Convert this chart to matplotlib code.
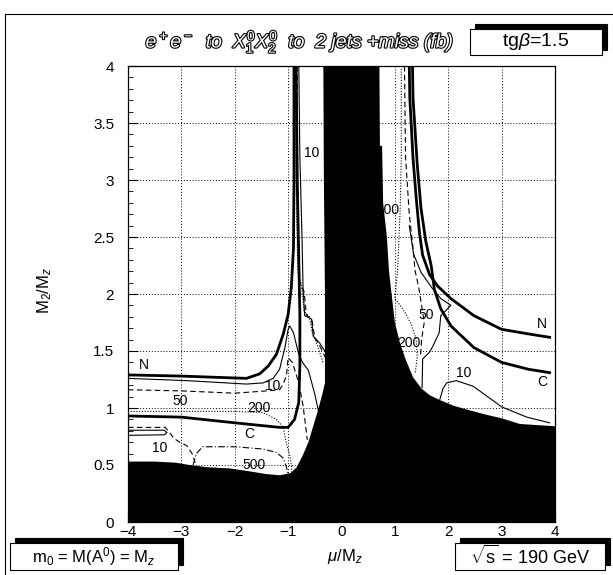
import matplotlib
matplotlib.use("Agg")
import matplotlib.pyplot as plt
import matplotlib.patheffects as pe
from matplotlib.patches import Rectangle
from matplotlib.lines import Line2D
from matplotlib.ticker import MultipleLocator, FuncFormatter

plt.rcParams["font.family"] = ["Liberation Sans", "DejaVu Sans"]
plt.rcParams["mathtext.fontset"] = "custom"
plt.rcParams["mathtext.rm"] = "Liberation Sans"
plt.rcParams["mathtext.it"] = "Liberation Sans:italic"
plt.rcParams["mathtext.bf"] = "Liberation Sans:bold"

# excluded region (mu/Mz, M2/Mz), filled black
excl_mu = [-4.0, -4.0, -3.5, -3.1, -2.85, -2.5, -2.1, -1.8, -1.4, -1.15, -0.95, -0.84,
           -0.72, -0.62, -0.53, -0.44, -0.36, -0.31, -0.31, -0.33, -0.34,
           0.71, 0.72, 0.76, 0.78, 0.85, 0.89, 0.95, 1.0, 1.09, 1.19, 1.34, 1.5,
           1.66, 1.84, 2.1, 2.4, 2.72, 3.0, 3.34, 3.66, 4.0, 4.0]
excl_m2 = [0.0, 0.53, 0.53, 0.52, 0.50, 0.48, 0.47, 0.45, 0.42, 0.41, 0.43, 0.48,
           0.59, 0.70, 0.84, 0.98, 1.12, 1.22, 2.0, 3.0, 4.0,
           4.0, 3.3, 3.3, 2.8, 2.5, 2.2, 1.95, 1.75, 1.58, 1.44, 1.27, 1.17,
           1.11, 1.07, 1.02, 0.98, 0.94, 0.91, 0.86, 0.85, 0.84, 0.0]

# neutralino (N) and chargino (C) limit lines
n_left_mu = [-4.0, -3.0, -2.4, -1.78, -1.53, -1.37, -1.22, -1.09, -1.0, -0.94, -0.9, -0.89, -0.89]
n_left_m2 = [1.29, 1.28, 1.27, 1.26, 1.30, 1.37, 1.47, 1.65, 1.82, 2.06, 2.4, 3.0, 4.0]
c_left_mu = [-4.0, -3.0, -2.0, -1.16, -1.0, -0.88, -0.8, -0.78, -0.78, -0.80, -0.83, -0.85]
c_left_m2 = [0.93, 0.92, 0.87, 0.83, 0.83, 0.90, 1.05, 1.38, 1.82, 2.3, 3.0, 4.0]
n_right_mu = [1.27, 1.28, 1.34, 1.40, 1.46, 1.52, 1.65, 1.80, 2.05, 2.48, 3.0, 3.5, 3.9]
n_right_m2 = [4.0, 3.72, 3.19, 2.84, 2.54, 2.34, 2.17, 2.07, 1.96, 1.81, 1.69, 1.65, 1.62]
c_right_mu = [1.33, 1.34, 1.42, 1.49, 1.58, 1.68, 1.74, 1.86, 2.05, 2.48, 3.0, 3.5, 3.9]
c_right_m2 = [4.0, 3.72, 3.13, 2.75, 2.46, 2.25, 2.04, 1.87, 1.72, 1.53, 1.40, 1.34, 1.31]

# cross-section contours (fb)
s10_left_mu = [-4.0, -2.9, -1.78, -1.47, -1.28, -1.16, -1.06, -1.0, -0.97, -0.9, -0.8, -0.73, -0.62, -0.5, -0.42]
s10_left_m2 = [1.26, 1.24, 1.21, 1.22, 1.26, 1.34, 1.53, 1.69, 1.72, 1.66, 1.47, 1.40, 1.33, 1.12, 0.95]
s10_up_mu = [-0.80, -0.78, -0.74, -0.72, -0.69, -0.56, -0.53, -0.41, -0.30]
s10_up_m2 = [4.0, 3.2, 2.5, 2.04, 1.81, 1.78, 1.63, 1.57, 1.49]
s10_low_mu = [-4.0, -3.32, -3.27, -3.32, -4.0]
s10_low_m2 = [0.76, 0.765, 0.785, 0.805, 0.805]
s10_right_mu = [1.84, 1.9, 1.97, 2.15, 2.47, 3.0, 3.47, 3.9]
s10_right_m2 = [1.07, 1.17, 1.22, 1.24, 1.19, 1.01, 0.92, 0.87]

s50_left_mu = [-4.0, -3.0, -2.0, -1.4, -1.16, -1.09, -1.03, -1.0, -0.92, -0.8, -0.72, -0.64]
s50_left_m2 = [1.16, 1.15, 1.13, 1.15, 1.16, 1.21, 1.29, 1.44, 1.40, 1.22, 1.02, 0.72]
s50_up_mu = [-0.83, -0.82, -0.80, -0.70, -0.66, -0.55, -0.50, -0.38, -0.30]
s50_up_m2 = [4.0, 3.0, 2.12, 2.02, 1.82, 1.76, 1.62, 1.52, 1.44]
s50_low_mu = [-4.0, -3.3, -3.25, -3.13, -3.03, -2.9, -2.8, -2.74]
s50_low_m2 = [0.83, 0.83, 0.80, 0.73, 0.70, 0.67, 0.60, 0.52]
s50_right_mu = [1.27, 1.35, 1.49, 1.70, 1.86, 2.05, 1.86, 1.83, 1.71, 1.65, 1.52, 1.51]
s50_right_m2 = [2.6, 2.35, 2.19, 2.05, 1.96, 1.9, 1.81, 1.66, 1.54, 1.49, 1.43, 1.18]
s50_edge_mu = [1.18, 1.2, 1.27, 1.34, 1.38, 1.45, 1.5, 1.55, 1.5, 1.48]
s50_edge_m2 = [4.0, 3.2, 2.7, 2.4, 2.2, 2.05, 1.9, 1.75, 1.6, 1.45]

s200_left_mu = [-4.0, -3.0, -2.0, -1.47, -1.22, -1.09, -1.03, -0.97, -0.94, -0.93]
s200_left_m2 = [0.97, 0.97, 0.97, 0.96, 0.90, 0.83, 0.68, 0.59, 0.50, 0.42]
s200_up_mu = [-0.86, -0.85, -0.82, -0.75, -0.70, -0.60, -0.55, -0.45, -0.35]
s200_up_m2 = [4.0, 3.0, 2.2, 2.08, 1.85, 1.80, 1.66, 1.55, 1.40]
s200_right_mu = [1.12, 1.12, 1.10, 1.05, 1.0, 1.1, 1.2, 1.32, 1.4, 1.42, 1.38]
s200_right_m2 = [4.0, 3.2, 2.75, 2.2, 1.96, 1.9, 1.83, 1.72, 1.6, 1.45, 1.3]

s500_mu = [-2.78, -2.72, -2.6, -2.0, -1.47, -1.22, -1.09, -1.03, -1.0]
s500_m2 = [0.50, 0.60, 0.66, 0.66, 0.64, 0.61, 0.56, 0.48, 0.42]

# contour labels: text, mu, M2
label_text = ["N", "10", "50", "200", "C", "10", "500", "10", "100", "50", "200", "N", "C", "10"]
label_mu = [-3.71, -1.28, -3.03, -1.54, -1.72, -3.41, -1.63, -0.55, 0.86, 1.58, 1.27, 3.76, 3.76, 2.29]
label_m2 = [1.38, 1.19, 1.06, 1.00, 0.77, 0.65, 0.50, 3.24, 2.74, 1.82, 1.57, 1.74, 1.23, 1.31]

W, H = 613, 575
fig = plt.figure(figsize=(W / 100, H / 100), dpi=100)
ax = fig.add_axes([128 / W, 53 / H, 427 / W, 456 / H])

thick = dict(color="black", lw=2.0, zorder=3)
thin = dict(color="black", lw=0.8, ls="-", zorder=3)
dash = dict(color="black", lw=0.8, ls=(0, (5, 3)), zorder=3)
dot = dict(color="black", lw=0.8, ls=(0, (1, 1.5)), zorder=3)
dashdot = dict(color="black", lw=0.8, ls=(0, (6, 2, 1, 2)), zorder=3)

for mu, m2 in [(n_left_mu, n_left_m2), (c_left_mu, c_left_m2),
               (n_right_mu, n_right_m2), (c_right_mu, c_right_m2)]:
    ax.plot(mu, m2, **thick)
for mu, m2 in [(s10_left_mu, s10_left_m2), (s10_up_mu, s10_up_m2),
               (s10_low_mu, s10_low_m2), (s10_right_mu, s10_right_m2),
               (s50_right_mu, s50_right_m2)]:
    ax.plot(mu, m2, **thin)
for mu, m2 in [(s50_left_mu, s50_left_m2), (s50_up_mu, s50_up_m2),
               (s50_low_mu, s50_low_m2), (s50_edge_mu, s50_edge_m2)]:
    ax.plot(mu, m2, **dash)
for mu, m2 in [(s200_left_mu, s200_left_m2), (s200_up_mu, s200_up_m2),
               (s200_right_mu, s200_right_m2)]:
    ax.plot(mu, m2, **dot)
ax.plot(s500_mu, s500_m2, **dashdot)

for t, x, y in zip(label_text, label_mu, label_m2):
    ax.text(x, y, t, fontsize=10, ha="center", va="center", zorder=4)

# excluded region drawn over the contours
ax.fill(excl_mu, excl_m2, color="black", lw=0, zorder=5)

ax.set_xlim(-4, 4)
ax.set_ylim(0, 4)
ax.xaxis.set_major_locator(MultipleLocator(1))
ax.xaxis.set_minor_locator(MultipleLocator(0.2))
ax.yaxis.set_major_locator(MultipleLocator(0.5))
ax.yaxis.set_minor_locator(MultipleLocator(0.1))
ax.xaxis.set_major_formatter(FuncFormatter(lambda v, p: f"{v:g}".replace("-", "\u2212")))
ax.yaxis.set_major_formatter(FuncFormatter(lambda v, p: f"{v:g}"))
ax.tick_params(which="both", direction="in", top=False, right=False, labelsize=11)
ax.tick_params(axis="x", pad=2)
ax.tick_params(axis="y", pad=10)
ax.tick_params(which="major", length=7, width=0.8)
ax.tick_params(which="minor", length=3.5, width=0.6)
ax.grid(True, which="major", ls=(0, (1, 2)), lw=0.7, color="black", zorder=0)
ax.set_axisbelow(True)
for s in ax.spines.values():
    s.set_linewidth(0.9)

# outer page frame
fig.add_artist(Line2D([5 / W, 5 / W], [0, 1 - 14 / H], color="black", lw=0.8))
fig.add_artist(Line2D([5 / W, 1], [1 - 14 / H, 1 - 14 / H], color="black", lw=0.8))


def shadow_box(x0, y0, w, h, text, fs):
    # white box with a solid black shadow offset up-right
    off_x, off_y = 5 / W, 5 / H
    fig.add_artist(Rectangle((x0 + off_x, y0 + off_y), w, h, transform=fig.transFigure,
                             facecolor="black", edgecolor="black", lw=0.8))
    fig.add_artist(Rectangle((x0, y0), w, h, transform=fig.transFigure,
                             facecolor="white", edgecolor="black", lw=0.8))
    fig.text(x0 + w / 2, y0 + h / 2, text, ha="center", va="center", fontsize=fs)


shadow_box(470 / W, 1 - 55 / H, 132 / W, 26 / H, r"tg$\beta$=1.5", 14)
shadow_box(10 / W, 1 - 570 / H, 168 / W, 27 / H, r"m$_0$ = M(A$^0$) = M$_z$", 12)
shadow_box(455 / W, 1 - 570 / H, 150 / W, 27 / H, r"$\sqrt{\rm s}$ = 190 GeV", 13)

fig.text(300 / W, 1 - 42 / H, r"$e^+e^-$  to  $X_1^0X_2^0$  to  2 jets +miss (fb)",
         ha="center", va="center", fontsize=14, style="italic", color="white",
         path_effects=[pe.withStroke(linewidth=1.6, foreground="black")])
fig.text(345 / W, 1 - 557 / H, r"$\mu$/M$_z$", ha="center", va="center", fontsize=12)
fig.text(45 / W, 1 - 290 / H, r"M$_2$/M$_z$", ha="center", va="center", fontsize=12, rotation=90)

fig.savefig("out.png", dpi=100)
